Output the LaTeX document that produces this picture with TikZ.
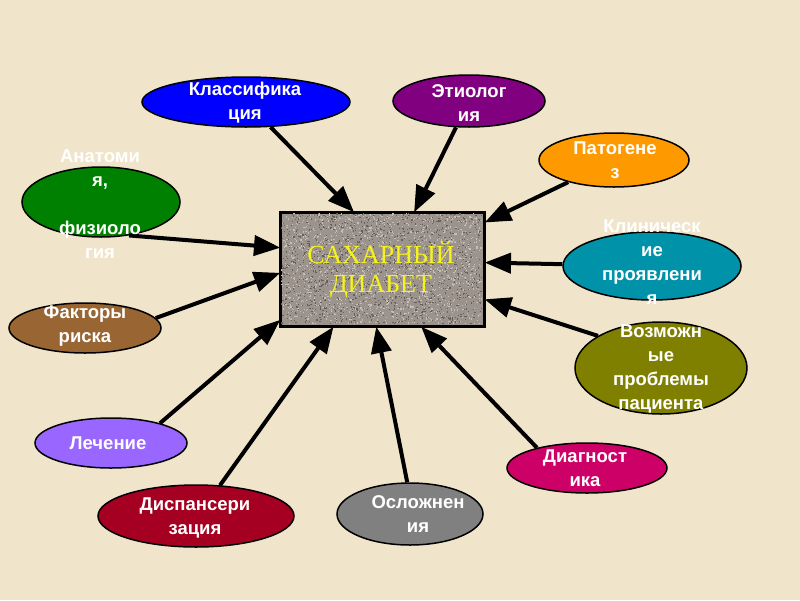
\documentclass[tikz,border=0pt]{standalone}
\usepackage{fontspec}
\setmainfont{Liberation Sans}
\newfontfamily\serifru{Liberation Serif}
\usetikzlibrary{shapes.geometric,arrows.meta,calc}
\definecolor{paper}{RGB}{240,229,202}
\definecolor{cblue}{RGB}{0,0,255}
\definecolor{cpurple}{RGB}{128,0,128}
\definecolor{corange}{RGB}{255,153,0}
\definecolor{cgreen}{RGB}{0,128,0}
\definecolor{cteal}{RGB}{0,146,168}
\definecolor{cbrown}{RGB}{153,102,51}
\definecolor{colive}{RGB}{128,128,0}
\definecolor{cviolet}{RGB}{153,102,255}
\definecolor{ccrimson}{RGB}{165,0,33}
\definecolor{cgray}{RGB}{128,128,128}
\definecolor{cmagenta}{RGB}{204,0,102}
\definecolor{granite}{RGB}{156,148,140}
\definecolor{dmyellow}{RGB}{245,242,30}
\begin{document}
\begin{tikzpicture}[x=1pt,y=-1pt,
  oval/.style={ellipse, draw=black, line width=1.5pt, inner sep=0pt},
  lbl/.style={text=white, font=\bfseries\fontsize{18.5}{24}\selectfont, align=center, inner sep=0pt},
  link/.style={line width=4pt, -{Triangle[length=26pt, width=21pt, line width=1pt, fill=black]}}]
\useasboundingbox (0,0) rectangle (800,600);
\fill[paper] (0,0) rectangle (800,600);

% central box
\node[draw=black, line width=2pt, fill=granite, minimum width=203pt, minimum height=113pt, inner sep=0pt, anchor=north west] (dm) at (280,212) {};
\pgfmathsetseed{7}
\foreach \i in {1,...,1400}{\fill[black!35!granite] ({281+200*rnd},{213+110*rnd}) rectangle +(1.2,1.2);}
\foreach \i in {1,...,1400}{\fill[white!40!granite] ({281+200*rnd},{213+110*rnd}) rectangle +(1.2,1.2);}
\draw[line width=2pt] (dm.north west) rectangle (dm.south east);
\node[text=dmyellow, font=\serifru\fontsize{26}{29}\selectfont, align=center, inner sep=0pt] (dmt) at (381,270) {САХАРНЫЙ\\ДИАБЕТ};

% ovals
\node[oval, fill=cblue, minimum width=208pt, minimum height=50pt] (klass) at (246,102) {};
\node[oval, fill=cpurple, minimum width=152pt, minimum height=52pt] (etio) at (469,101) {};
\node[oval, fill=corange, minimum width=150pt, minimum height=54pt] (patog) at (614,160) {};
\node[oval, fill=cgreen, minimum width=158pt, minimum height=70pt] (anat) at (101,202) {};
\node[oval, fill=cteal, minimum width=178pt, minimum height=68pt] (klin) at (652,266) {};
\node[oval, fill=cbrown, minimum width=152pt, minimum height=50pt] (fakt) at (85,328) {};
\node[oval, fill=colive, minimum width=172pt, minimum height=92pt] (vozm) at (661,368) {};
\node[oval, fill=cviolet, minimum width=152pt, minimum height=50pt] (lech) at (111,443) {};
\node[oval, fill=ccrimson, minimum width=196pt, minimum height=62pt] (disp) at (196,516) {};
\node[oval, fill=cgray, minimum width=146pt, minimum height=62pt] (osl) at (410,514) {};
\node[oval, fill=cmagenta, minimum width=160pt, minimum height=50pt] (diag) at (587,468) {};

% arrow targets on the box
\coordinate (tklass) at ($(dm.north west)!0.36!(dm.north east)$);
\coordinate (tetio) at ($(dm.north west)!0.655!(dm.north east)$);
\coordinate (tpatog) at ($(dm.north east)!0.09!(dm.south east)$);
\coordinate (tanat) at ($(dm.north west)!0.31!(dm.south west)$);
\coordinate (tklin) at ($(dm.north east)!0.44!(dm.south east)$);
\coordinate (tfakt) at ($(dm.north west)!0.53!(dm.south west)$);
\coordinate (tvozm) at ($(dm.north east)!0.76!(dm.south east)$);
\coordinate (tlech) at ($(dm.north west)!0.94!(dm.south west)$);
\coordinate (tdisp) at ($(dm.south west)!0.26!(dm.south east)$);
\coordinate (tosl) at ($(dm.south west)!0.47!(dm.south east)$);
\coordinate (tdiag) at ($(dm.south west)!0.69!(dm.south east)$);

\draw[link] (klass) -- (tklass);
\draw[link] (etio) -- (tetio);
\draw[link] (patog) -- (tpatog);
\draw[link] (anat.-50) -- (tanat);
\draw[link] (klin) -- (tklin);
\draw[link] (fakt.8) -- (tfakt);
\draw[link] (vozm.153) -- (tvozm);
\draw[link] (lech.22) -- (tlech);
\draw[link] (disp.52) -- (tdisp);
\draw[link] (osl.95) -- (tosl);
\draw[link] (diag.158) -- (tdiag);

% labels
\node[lbl] (klasst) at (245,103) {Классифика\\ция};
\node[lbl] (etiot) at (469,103) {Этиолог\\ия};
\node[lbl] (patogt) at (615,160) {Патогене\\з};
\node[lbl] (anatt) at (100,204) {Анатоми\\я,\\\mbox{}\\физиоло\\гия};
\node[lbl] (klint) at (652,262) {Клиническ\\ие\\проявлени\\я};
\node[lbl] (faktt) at (85,326) {Факторы\\риска};
\node[lbl] (vozmt) at (661,369) {Возможн\\ые\\проблемы\\пациента};
\node[lbl] (lecht) at (108,443) {Лечение};
\node[lbl] (dispt) at (195,518) {Диспансери\\зация};
\node[lbl] (oslt) at (418,514) {Осложнен\\ия};
\node[lbl] (diagt) at (585,468) {Диагност\\ика};
\end{tikzpicture}
\end{document}
